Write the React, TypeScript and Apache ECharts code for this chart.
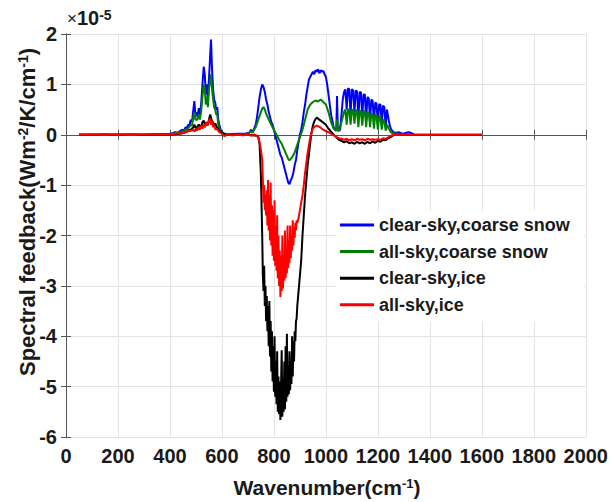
import React, { useEffect, useRef } from "react";
import * as echarts from "echarts";

// Wavenumber (cm^-1), spectral feedback (x1e-5 W m^-2 K^-1 / cm^-1)
const clearSkyCoarseSnow: [number, number][] = [
  [50, 0], [100, 0], [150, 0.005], [200, 0], [250, 0.005], [300, 0], [350, 0.01], [380, 0.01],
  [400, 0.02], [410, 0.03], [420, 0.05], [430, 0.04], [440, 0.08], [450, 0.1], [455, 0.08],
  [460, 0.15], [465, 0.12], [470, 0.2], [475, 0.18], [480, 0.3], [485, 0.25], [490, 0.5],
  [494, 0.67], [498, 0.4], [502, 0.45], [506, 0.35], [511, 0.53], [515, 0.4], [520, 0.6],
  [525, 1.0], [530, 1.35], [534, 1.2], [538, 0.8], [542, 1.0], [546, 0.7], [550, 1.1],
  [554, 1.5], [558, 1.89], [562, 1.3], [566, 0.9], [570, 0.7], [574, 0.64], [578, 0.5],
  [582, 0.55], [586, 0.3], [590, 0.2], [595, 0.1], [600, 0.05], [610, 0.02], [630, 0.01],
  [660, 0.02], [690, 0.02], [705, 0.04], [712, 0.1], [718, 0.05], [724, 0.12], [730, 0.2],
  [735, 0.35], [740, 0.55], [745, 0.75], [750, 0.9], [755, 1.0], [760, 0.95], [765, 0.85],
  [770, 0.7], [775, 0.6], [780, 0.45], [785, 0.35], [790, 0.25], [795, 0.2], [800, 0.1],
  [805, 0.0], [810, -0.1], [815, -0.2], [820, -0.3], [825, -0.4], [830, -0.45], [835, -0.55],
  [840, -0.65], [845, -0.75], [850, -0.85], [855, -0.95], [860, -0.98], [865, -0.9],
  [870, -0.85], [875, -0.75], [880, -0.6], [885, -0.5], [890, -0.3], [895, -0.15], [900, 0.0],
  [905, 0.1], [910, 0.25], [915, 0.45], [920, 0.6], [925, 0.8], [930, 0.95], [935, 1.1],
  [940, 1.15], [945, 1.2], [950, 1.25], [955, 1.2], [960, 1.28], [965, 1.25], [970, 1.3],
  [975, 1.22], [980, 1.28], [985, 1.25], [990, 1.27], [995, 1.2], [1000, 1.15], [1005, 1.0],
  [1010, 0.8], [1015, 0.6], [1020, 0.4], [1025, 0.28], [1030, 0.15], [1035, 0.1], [1040, 0.08],
  [1043, 0.77], [1046, 0.1], [1050, 0.08], [1055, 0.1], [1060, 0.4], [1065, 0.7], [1070, 0.85],
  [1075, 0.9], [1080, 0.5], [1085, 0.92], [1090, 0.9], [1095, 0.4], [1100, 0.9], [1105, 0.88],
  [1110, 0.45], [1115, 0.88], [1120, 0.86], [1125, 0.3], [1130, 0.85], [1135, 0.84],
  [1140, 0.35], [1145, 0.8], [1150, 0.8], [1155, 0.3], [1160, 0.75], [1165, 0.72], [1170, 0.3],
  [1175, 0.7], [1180, 0.67], [1185, 0.25], [1190, 0.64], [1195, 0.62], [1200, 0.2], [1205, 0.6],
  [1210, 0.6], [1215, 0.2], [1220, 0.58], [1225, 0.55], [1230, 0.15], [1235, 0.5], [1240, 0.35],
  [1245, 0.2], [1250, 0.12], [1255, 0.08], [1260, 0.05], [1270, 0.04], [1280, 0.05],
  [1290, 0.03], [1300, 0.02], [1310, 0.04], [1320, 0.05], [1330, 0.03], [1340, 0.0],
];

const allSkyCoarseSnow: [number, number][] = [
  [50, 0], [100, 0], [150, 0.003], [200, 0], [250, 0.004], [300, 0], [350, 0.008], [400, 0.015],
  [420, 0.03], [440, 0.05], [450, 0.07], [460, 0.1], [470, 0.12], [480, 0.2], [485, 0.18],
  [490, 0.35], [494, 0.45], [498, 0.3], [505, 0.3], [511, 0.4], [515, 0.3], [520, 0.45],
  [525, 0.75], [530, 1.0], [534, 0.9], [538, 0.6], [542, 0.75], [546, 0.55], [550, 0.9],
  [554, 1.05], [558, 1.2], [562, 0.9], [566, 0.7], [570, 0.55], [574, 0.5], [578, 0.4],
  [582, 0.4], [586, 0.2], [590, 0.12], [595, 0.06], [600, 0.03], [620, 0.01], [660, 0.01],
  [700, 0.02], [712, 0.07], [718, 0.04], [724, 0.1], [730, 0.15], [740, 0.3], [750, 0.45],
  [755, 0.52], [760, 0.55], [765, 0.5], [770, 0.42], [780, 0.3], [790, 0.2], [800, 0.1],
  [810, 0.0], [820, -0.1], [830, -0.18], [840, -0.3], [850, -0.42], [855, -0.48], [860, -0.51],
  [865, -0.48], [870, -0.45], [880, -0.35], [890, -0.2], [900, -0.05], [910, 0.1], [920, 0.3],
  [930, 0.5], [940, 0.6], [950, 0.65], [960, 0.68], [970, 0.66], [980, 0.7], [990, 0.65],
  [1000, 0.6], [1010, 0.45], [1020, 0.25], [1030, 0.12], [1040, 0.08], [1043, 0.3],
  [1046, 0.08], [1050, 0.08], [1060, 0.25], [1070, 0.45], [1075, 0.5], [1080, 0.2], [1085, 0.5],
  [1090, 0.5], [1095, 0.2], [1100, 0.5], [1105, 0.49], [1110, 0.22], [1115, 0.49], [1120, 0.48],
  [1125, 0.15], [1130, 0.48], [1135, 0.47], [1140, 0.18], [1145, 0.47], [1150, 0.47],
  [1155, 0.15], [1160, 0.45], [1165, 0.44], [1170, 0.15], [1175, 0.42], [1180, 0.41],
  [1185, 0.12], [1190, 0.4], [1195, 0.38], [1200, 0.1], [1205, 0.37], [1210, 0.34],
  [1215, 0.1], [1220, 0.3], [1225, 0.26], [1230, 0.08], [1235, 0.2], [1240, 0.14], [1250, 0.05],
  [1260, 0.03], [1280, 0.02], [1300, 0.01], [1320, 0.0],
];

const clearSkyIce: [number, number][] = [
  [50, 0], [100, 0], [200, 0], [300, 0], [400, 0.005], [440, 0.02], [460, 0.05], [480, 0.1],
  [490, 0.15], [494, 0.2], [500, 0.12], [511, 0.2], [520, 0.15], [525, 0.25], [530, 0.28],
  [535, 0.2], [540, 0.25], [546, 0.2], [550, 0.3], [555, 0.4], [560, 0.3], [565, 0.25],
  [570, 0.2], [575, 0.22], [580, 0.15], [590, 0.08], [600, 0.03], [620, 0.0], [660, 0.0],
  [700, 0.0], [720, -0.01], [735, -0.02], [740, -0.05], [745, -0.2], [750, -0.8], [755, -2.0],
  [757.5, -2.8], [760, -3.1], [762.5, -2.6], [765, -3.4], [767.5, -3.0], [770, -3.7],
  [772.5, -3.2], [775, -3.9], [777.5, -3.4], [780, -4.2], [782.5, -3.3], [785, -4.4],
  [787.5, -3.7], [790, -4.7], [792.5, -3.9], [795, -4.9], [797.5, -4.2], [800, -5.1],
  [802.5, -4.0], [805, -5.2], [807.5, -4.5], [810, -5.35], [812.5, -4.3], [815, -5.5],
  [817.5, -4.8], [820, -5.55], [822.5, -4.9], [825, -5.66], [827.5, -5.0], [830, -4.28],
  [832.5, -5.6], [835, -4.9], [837.5, -5.5], [840, -4.5], [842.5, -5.45], [845, -4.2],
  [847.5, -5.3], [850, -3.95], [852.5, -5.2], [855, -4.6], [857.5, -5.15], [860, -4.3],
  [862.5, -5.07], [865, -4.5], [867.5, -4.95], [870, -4.0], [872.5, -4.8], [875, -4.1],
  [877.5, -4.5], [880, -3.9], [882.5, -4.1], [885, -3.7], [887.5, -3.65], [890, -3.4],
  [895, -3.1], [900, -2.8], [905, -2.5], [910, -2.0], [915, -1.6], [920, -1.2], [925, -0.9],
  [930, -0.6], [935, -0.38], [940, -0.15], [945, 0.05], [950, 0.18], [955, 0.26], [960, 0.31],
  [965, 0.34], [970, 0.32], [975, 0.3], [980, 0.28], [990, 0.24], [1000, 0.2], [1010, 0.12],
  [1020, 0.06], [1030, 0.0], [1040, -0.05], [1050, -0.1], [1060, -0.12], [1070, -0.15],
  [1080, -0.13], [1090, -0.17], [1100, -0.15], [1110, -0.18], [1120, -0.14], [1130, -0.17],
  [1140, -0.15], [1150, -0.18], [1160, -0.14], [1170, -0.17], [1180, -0.13], [1190, -0.16],
  [1200, -0.12], [1210, -0.14], [1220, -0.1], [1230, -0.11], [1240, -0.07], [1250, -0.04],
  [1260, -0.01], [1270, 0], [1400, 0], [1600, 0],
];

const allSkyIce: [number, number][] = [
  [50, 0], [100, 0.003], [150, -0.003], [200, 0.004], [250, -0.003], [300, 0.003], [350, 0.005],
  [400, 0.01], [420, 0.02], [440, 0.03], [460, 0.05], [470, 0.07], [480, 0.08], [490, 0.1],
  [495, 0.06], [500, 0.12], [505, 0.08], [510, 0.15], [515, 0.1], [520, 0.18], [525, 0.12],
  [530, 0.2], [535, 0.15], [540, 0.25], [545, 0.18], [550, 0.28], [555, 0.32], [558, 0.2],
  [562, 0.28], [566, 0.15], [570, 0.2], [575, 0.1], [580, 0.12], [590, 0.05], [600, 0.02],
  [610, -0.03], [620, 0.01], [640, -0.01], [660, 0], [680, -0.01], [700, 0], [715, -0.02],
  [725, 0.01], [735, -0.03], [740, -0.05], [745, -0.15], [750, -0.3], [755, -0.5],
  [757.5, -0.9], [760, -1.35], [762.5, -1.0], [765, -1.5], [767.5, -1.2], [770, -1.6],
  [772.5, -1.1], [775, -1.8], [777.5, -0.9], [780, -1.9], [782.5, -1.2], [785, -2.1],
  [787.5, -0.95], [790, -2.2], [792.5, -1.4], [795, -2.4], [797.5, -1.5], [800, -2.5],
  [802.5, -1.3], [805, -2.6], [807.5, -1.8], [810, -2.7], [812.5, -1.6], [815, -2.85],
  [817.5, -2.0], [820, -3.0], [822.5, -2.3], [825, -3.22], [827.5, -2.4], [830, -3.1],
  [832.5, -2.0], [835, -3.05], [837.5, -2.5], [840, -2.9], [842.5, -1.9], [845, -2.85],
  [847.5, -2.3], [850, -2.75], [852.5, -1.8], [855, -2.65], [857.5, -2.1], [860, -2.55],
  [862.5, -1.8], [865, -2.45], [867.5, -2.0], [870, -2.3], [872.5, -1.7], [875, -2.2],
  [877.5, -1.85], [880, -2.05], [882.5, -1.75], [885, -1.9], [887.5, -1.7], [890, -1.75],
  [895, -1.65], [900, -1.5], [905, -1.35], [910, -1.2], [915, -1.0], [920, -0.75],
  [925, -0.55], [930, -0.35], [935, -0.2], [940, -0.05], [945, 0.05], [950, 0.12], [955, 0.15],
  [960, 0.17], [965, 0.18], [970, 0.17], [980, 0.14], [990, 0.1], [1000, 0.07], [1010, 0.05],
  [1020, 0.02], [1030, -0.01], [1040, -0.04], [1050, -0.07], [1060, -0.08], [1070, -0.1],
  [1080, -0.08], [1090, -0.11], [1100, -0.09], [1110, -0.11], [1120, -0.08], [1130, -0.1],
  [1140, -0.09], [1150, -0.11], [1160, -0.08], [1170, -0.1], [1180, -0.09], [1190, -0.1],
  [1200, -0.09], [1210, -0.1], [1220, -0.07], [1230, -0.08], [1240, -0.05], [1250, -0.02],
  [1260, 0], [1300, 0], [1400, 0], [1500, 0], [1600, 0],
];

const seriesNames = [
  "clear-sky,coarse snow",
  "all-sky,coarse snow",
  "clear-sky,ice",
  "all-sky,ice",
];
const seriesColors = ["#0000ff", "#008000", "#000000", "#ff0000"];

const FONT = "'Liberation Sans', Arial, Helvetica, sans-serif";

export default function App() {
  const ref = useRef<HTMLDivElement>(null);

  useEffect(() => {
    if (!ref.current) return;
    const chart = echarts.init(ref.current, undefined, { renderer: "svg" });
    const datasets = [clearSkyCoarseSnow, allSkyCoarseSnow, clearSkyIce, allSkyIce];
    const axisLineColor = "#555555";
    const gridColor = "#e4e4e4";
    const tick = { show: true, inside: true, length: 5, lineStyle: { color: axisLineColor } };
    const labelStyle = {
      margin: 9,
      fontSize: 20,
      fontWeight: "bold",
      fontFamily: FONT,
      color: "#1a1a1a",
      formatter: (v: number) => String(v),
    };

    chart.setOption({
      animation: false,
      backgroundColor: "#ffffff",
      grid: { left: 66, right: 23, top: 34, bottom: 65, show: false },
      xAxis: [
        {
          type: "value",
          min: 0,
          max: 2000,
          interval: 200,
          position: "bottom",
          axisLine: { show: true, lineStyle: { color: axisLineColor, width: 1 } },
          axisTick: tick,
          splitLine: { show: true, lineStyle: { color: gridColor, width: 1 } },
          axisLabel: labelStyle,
        },
        {
          type: "value",
          min: 0,
          max: 2000,
          interval: 200,
          position: "top",
          axisLine: { show: true, lineStyle: { color: axisLineColor, width: 1 } },
          axisTick: tick,
          splitLine: { show: false },
          axisLabel: { show: false },
        },
      ],
      yAxis: [
        {
          type: "value",
          min: -6,
          max: 2,
          interval: 1,
          position: "left",
          axisLine: { show: true, lineStyle: { color: axisLineColor, width: 1 } },
          axisTick: tick,
          splitLine: { show: true, lineStyle: { color: gridColor, width: 1 } },
          axisLabel: labelStyle,
        },
        {
          type: "value",
          min: -6,
          max: 2,
          interval: 1,
          position: "right",
          axisLine: { show: true, lineStyle: { color: axisLineColor, width: 1 } },
          axisTick: tick,
          splitLine: { show: false },
          axisLabel: { show: false },
        },
      ],
      legend: {
        orient: "vertical",
        left: 336,
        top: 211,
        padding: [5, 14, 8, 4],
        backgroundColor: "#ffffff",
        itemWidth: 34,
        itemHeight: 3,
        itemGap: 8.6,
        icon: "rect",
        data: seriesNames,
        textStyle: {
          fontSize: 18,
          fontWeight: "bold",
          fontFamily: FONT,
          color: "#1a1a1a",
        },
      },
      series: datasets.map((d, i) => ({
        name: seriesNames[i],
        type: "line",
        data: d,
        xAxisIndex: 0,
        yAxisIndex: 0,
        showSymbol: false,
        symbol: "none",
        color: seriesColors[i],
        lineStyle: { color: seriesColors[i], width: 2 },
        z: 2 + i,
      })),
      graphic: [
        {
          type: "text",
          x: 67,
          y: 8,
          style: {
            text: "×{n|10}{s|-5}",
            fontSize: 17,
            fontFamily: FONT,
            fill: "#1a1a1a",
            rich: {
              n: {
                fontSize: 20,
                fontWeight: "bold",
                fontFamily: FONT,
                fill: "#1a1a1a",
              },
              s: {
                fontSize: 14,
                fontWeight: "bold",
                fontFamily: FONT,
                verticalAlign: "top",
                fill: "#1a1a1a",
              },
            },
          },
        },
        {
          type: "text",
          x: 27,
          y: 212,
          rotation: Math.PI / 2,
          style: {
            text: "Spectral feedback(Wm{s|-2}/K/cm{s|-1})",
            align: "center",
            verticalAlign: "middle",
            fontSize: 22,
            fontWeight: "bold",
            fontFamily: FONT,
            fill: "#1a1a1a",
            rich: {
              s: {
                fontSize: 14,
                fontWeight: "bold",
                fontFamily: FONT,
                verticalAlign: "top",
                fill: "#1a1a1a",
              },
            },
          },
        },
        {
          type: "text",
          x: 327,
          y: 487,
          style: {
            text: "Wavenumber(cm{s|-1})",
            align: "center",
            verticalAlign: "middle",
            fontSize: 21,
            fontWeight: "bold",
            fontFamily: FONT,
            fill: "#1a1a1a",
            rich: {
              s: {
                fontSize: 13,
                fontWeight: "bold",
                fontFamily: FONT,
                verticalAlign: "top",
                fill: "#1a1a1a",
              },
            },
          },
        },
      ],
    });

    return () => chart.dispose();
  }, []);

  return (
    <div
      ref={ref}
      style={{ position: "absolute", left: 0, top: 0, width: 611, height: 502 }}
    />
  );
}
